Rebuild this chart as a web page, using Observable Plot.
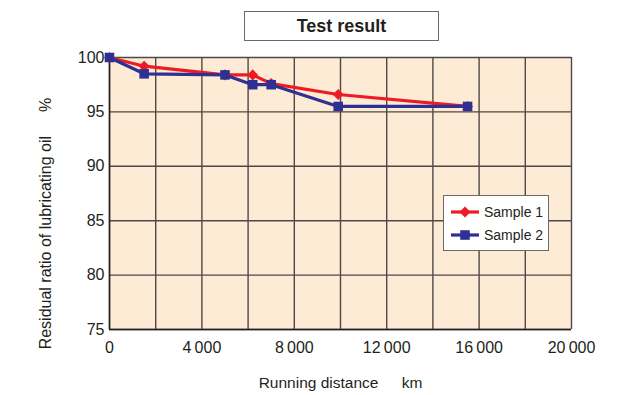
<!DOCTYPE html>
<html>
<head>
<meta charset="utf-8">
<script src="https://cdn.jsdelivr.net/npm/d3@7"></script>
<script src="https://cdn.jsdelivr.net/npm/@observablehq/plot@0.6"></script>
<style>
  body { margin: 0; background: #fff; }
  #wrap { position: relative; width: 627px; height: 395px; font-family: "Liberation Sans", Arial, sans-serif; }
  #title { position: absolute; left: 244px; top: 11px; width: 193px; height: 28px; border: 1px solid #6a6a6a;
    font-weight: bold; font-size: 18px; text-align: center; line-height: 28px; color: #231f20; background: #fff; }
  #legend { position: absolute; left: 443px; top: 195px; width: 104px; height: 54px; border: 1px solid #6a6a6a;
    background: #fff; }
</style>
</head>
<body>
<div id="wrap"></div>
<script>
const distance = [0, 1500, 5000, 6200, 7000, 9900, 15500];
const sample1 = [100, 99.2, 98.4, 98.4, 97.6, 96.6, 95.5];
const sample2 = [100, 98.5, 98.4, 97.5, 97.5, 95.5, 95.5];
const seriesNames = ["Sample 1", "Sample 2"];
const seriesColors = ["#ed1c24", "#2e3192"];
const xTicks = [0, 4000, 8000, 12000, 16000, 20000];
const yTicks = [75, 80, 85, 90, 95, 100];
const xGrid = d3.range(0, 20001, 2000);
const titleText = "Test result";
const xLabel = "Running distance\u2003\u2002km";
const yLabel = "Residual ratio of lubricating oil\u2003\u2002%";

const rows1 = distance.map((d, i) => ({x: d, y: sample1[i]}));
const rows2 = distance.map((d, i) => ({x: d, y: sample2[i]}));
const fmt = d => d3.format(",")(d).replace(",", "\u2009");

const chart = Plot.plot({
  width: 627,
  height: 395,
  marginLeft: 109,
  marginRight: 56,
  marginTop: 57,
  marginBottom: 66,
  style: {fontFamily: "Liberation Sans, Arial, sans-serif", fontSize: "16px", color: "#231f20", background: "transparent"},
  x: {domain: [0, 20000]},
  y: {domain: [75, 100]},
  marks: [
    Plot.frame({fill: "#fdebd5", stroke: null}),
    Plot.ruleX(xGrid, {stroke: "#4f4846", strokeWidth: 1.4}),
    Plot.ruleY(yTicks, {stroke: "#4f4846", strokeWidth: 1.4}),
    Plot.ruleX([0], {stroke: "#231f20", strokeWidth: 1.5}),
    Plot.ruleY([75], {stroke: "#231f20", strokeWidth: 1.5}),
    Plot.axisX({ticks: xTicks, tickSize: 0, tickPadding: 12, tickFormat: fmt, fontSize: 16, label: null}),
    Plot.axisY({ticks: yTicks, tickSize: 0, tickPadding: 5, fontSize: 16, label: null}),
    Plot.text([xLabel], {frameAnchor: "bottom", dy: 58, fontSize: 15.5, fill: "#231f20"}),
    Plot.text([yLabel], {frameAnchor: "left", textAnchor: "middle", dx: -64, dy: 30, rotate: -90, fontSize: 16, fill: "#231f20"}),
    Plot.line(rows1, {x: "x", y: "y", stroke: seriesColors[0], strokeWidth: 3.2}),
    Plot.line(rows2, {x: "x", y: "y", stroke: seriesColors[1], strokeWidth: 3.2}),
    Plot.dot(rows1, {x: "x", y: "y", symbol: "diamond2", r: 5, fill: seriesColors[0], stroke: null}),
    Plot.dot(rows2, {x: "x", y: "y", symbol: "square", r: 5.4, fill: seriesColors[1], stroke: null})
  ]
});

const wrap = document.getElementById("wrap");
wrap.appendChild(chart);

const title = document.createElement("div");
title.id = "title";
title.textContent = titleText;
wrap.appendChild(title);

const legend = document.createElement("div");
legend.id = "legend";
const lsvg = d3.create("svg").attr("width", 104).attr("height", 54);
seriesNames.forEach((name, i) => {
  const cy = 16 + i * 23;
  lsvg.append("line").attr("x1", 7).attr("x2", 35).attr("y1", cy).attr("y2", cy)
    .attr("stroke", seriesColors[i]).attr("stroke-width", 3.2);
  if (i === 0) {
    lsvg.append("path").attr("d", d3.symbol(d3.symbolDiamond2, Math.PI * 25)())
      .attr("transform", `translate(21,${cy})`).attr("fill", seriesColors[i]);
  } else {
    lsvg.append("path").attr("d", d3.symbol(d3.symbolSquare, Math.PI * 5.4 * 5.4)())
      .attr("transform", `translate(21,${cy})`).attr("fill", seriesColors[i]);
  }
  lsvg.append("text").attr("x", 40).attr("y", cy + 5).text(name)
    .attr("font-family", "Liberation Sans, Arial, sans-serif").attr("font-size", 14).attr("fill", "#231f20");
});
legend.appendChild(lsvg.node());
wrap.appendChild(legend);
</script>
</body>
</html>
